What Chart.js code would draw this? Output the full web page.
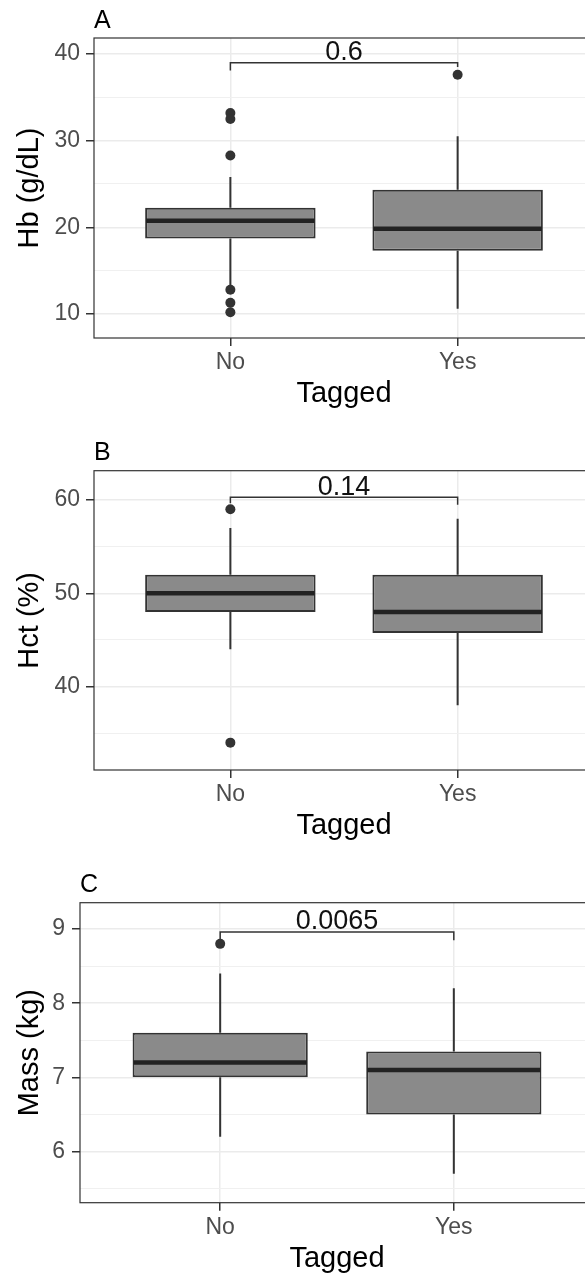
<!DOCTYPE html>
<html>
<head>
<meta charset="utf-8">
<script src="https://cdn.jsdelivr.net/npm/chart.js@4.4.0/dist/chart.umd.min.js"></script>
<style>
  html, body { margin: 0; padding: 0; overflow: hidden; background: #fff; width: 585px; height: 1276px; }
  .panel { position: absolute; left: 0; width: 600px; }
</style>
</head>
<body>
<div class="panel" style="top:0;height:420px"><canvas id="chartA"></canvas></div>
<div class="panel" style="top:420px;height:440px"><canvas id="chartB"></canvas></div>
<div class="panel" style="top:860px;height:416px"><canvas id="chartC"></canvas></div>
<script>
const groups = ['No', 'Yes'];
const groupX = [1, 2];

// A - Hb (g/dL)
const hbQ1 = [18.7, 17.3];
const hbMedian = [20.75, 19.85];
const hbQ3 = [22.25, 24.35];
const hbLower = [13.2, 10.6];
const hbUpper = [25.8, 30.5];
const hbOutliersNo = [33.2, 32.5, 28.3, 12.8, 11.3, 10.2];
const hbOutliersYes = [37.6];
const hbP = '0.6';
const hbBracket = [39.0, 38.1, 38.5]; // bar, left tip, right tip

// B - Hct (%)
const hctQ1 = [48, 45.75];
const hctMedian = [50, 48];
const hctQ3 = [52, 52];
const hctLower = [44, 38];
const hctUpper = [57, 58];
const hctOutliersNo = [59, 34];
const hctOutliersYes = [];
const hctP = '0.14';
const hctBracket = [60.3, 59.65, 59.5];

// C - Mass (kg)
const massQ1 = [7.0, 6.5];
const massMedian = [7.2, 7.1];
const massQ3 = [7.6, 7.35];
const massLower = [6.2, 5.7];
const massUpper = [8.4, 8.2];
const massOutliersNo = [8.8];
const massOutliersYes = [];
const massP = '0.0065';
const massBracket = [8.96, 8.85, 8.85];

Chart.defaults.font.family = "'Liberation Sans', Arial, Helvetica, sans-serif";
Chart.defaults.animation = false;

const ink = '#333333';

function isMajor(v, major) {
  const r = v / major;
  return Math.abs(r - Math.round(r)) < 1e-6;
}

// grid positions every `step` inside [min, max]
function gridTicks(min, max, step) {
  const out = [];
  for (let v = Math.ceil(min / step) * step; v <= max + 1e-9; v += step) {
    out.push({ value: Math.round(v * 1000) / 1000 });
  }
  return out;
}

function boxExtras(p) {
  return {
    id: 'boxExtras',
    beforeDatasetsDraw(chart) {
      const { ctx, scales: { x, y } } = chart;
      ctx.save();
      ctx.strokeStyle = ink;
      ctx.lineWidth = 2;
      groupX.forEach((gx, i) => {
        const px = x.getPixelForValue(gx);
        ctx.beginPath();
        ctx.moveTo(px, y.getPixelForValue(p.lower[i]));
        ctx.lineTo(px, y.getPixelForValue(p.q1[i]));
        ctx.moveTo(px, y.getPixelForValue(p.q3[i]));
        ctx.lineTo(px, y.getPixelForValue(p.upper[i]));
        ctx.stroke();
      });
      ctx.restore();
    },
    afterDatasetsDraw(chart) {
      const { ctx, chartArea, scales: { x, y } } = chart;
      const bars = chart.getDatasetMeta(1).data;
      ctx.save();
      // medians
      ctx.strokeStyle = '#222';
      ctx.lineWidth = 4.5;
      bars.forEach((bar, i) => {
        const py = y.getPixelForValue(p.median[i]);
        ctx.beginPath();
        ctx.moveTo(bar.x - bar.width / 2 + 1, py);
        ctx.lineTo(bar.x + bar.width / 2 - 1, py);
        ctx.stroke();
      });
      // comparison bracket
      const x1 = x.getPixelForValue(groupX[0]);
      const x2 = x.getPixelForValue(groupX[1]);
      const yb = y.getPixelForValue(p.bracket[0]);
      ctx.strokeStyle = ink;
      ctx.lineWidth = 1.5;
      ctx.beginPath();
      ctx.moveTo(x1, y.getPixelForValue(p.bracket[1]));
      ctx.lineTo(x1, yb);
      ctx.lineTo(x2, yb);
      ctx.lineTo(x2, y.getPixelForValue(p.bracket[2]));
      ctx.stroke();
      ctx.fillStyle = '#111';
      ctx.font = "27px 'Liberation Sans', Arial, sans-serif";
      ctx.textAlign = 'center';
      ctx.textBaseline = 'alphabetic';
      ctx.fillText(p.pval, (x1 + x2) / 2, yb - 2.5);
      // panel border
      ctx.strokeStyle = ink;
      ctx.lineWidth = 1.2;
      ctx.strokeRect(chartArea.left, chartArea.top, chartArea.right - chartArea.left, chartArea.bottom - chartArea.top);
      ctx.restore();
    }
  };
}

function boxChart(id, p) {
  const boxes = groupX.map((gx, i) => ({ x: gx, y: [p.q1[i], p.q3[i]] }));
  const outliers = [];
  p.outNo.forEach(v => outliers.push({ x: groupX[0], y: v }));
  p.outYes.forEach(v => outliers.push({ x: groupX[1], y: v }));

  return new Chart(document.getElementById(id), {
    type: 'bar',
    data: {
      datasets: [
        {
          type: 'line',
          data: outliers,
          showLine: false,
          pointRadius: 5,
          pointBackgroundColor: ink,
          pointBorderWidth: 0,
          borderColor: ink
        },
        {
          data: boxes,
          backgroundColor: '#8a8a8a',
          borderColor: ink,
          borderWidth: 2,
          borderSkipped: false,
          categoryPercentage: 1,
          barPercentage: 0.75
        }
      ]
    },
    options: {
      responsive: true,
      maintainAspectRatio: false,
      events: [],
      layout: { padding: { left: 0, right: 6, top: 0, bottom: 0 } },
      plugins: {
        legend: { display: false },
        tooltip: { enabled: false },
        title: {
          display: true,
          text: p.tag,
          align: 'start',
          fullSize: false,
          color: '#000',
          font: { size: 25, weight: 'normal' },
          padding: p.tagPad
        }
      },
      scales: {
        x: {
          type: 'linear',
          min: 0.4,
          max: 2.6,
          offset: false,
          bounds: 'data',
          afterBuildTicks: s => { s.ticks = groupX.map(v => ({ value: v })); },
          afterFit: s => { s.height = p.xHeight; },
          ticks: {
            callback: v => groups[groupX.indexOf(v)],
            color: '#4d4d4d',
            font: { size: 23 },
            padding: 3,
            maxRotation: 0,
            autoSkip: false
          },
          grid: { offset: false, color: '#ebebeb', lineWidth: 1.5, tickColor: ink, tickLength: 8, tickWidth: 1.5 },
          border: { display: false },
          title: {
            display: true,
            text: 'Tagged',
            color: '#000',
            font: { size: 29 },
            padding: { top: 0, bottom: p.xTitlePad }
          }
        },
        y: {
          type: 'linear',
          min: p.min,
          max: p.max,
          bounds: 'data',
          afterBuildTicks: s => { s.ticks = gridTicks(p.min, p.max, p.step); },
          afterFit: s => { s.width = p.yWidth; },
          ticks: {
            autoSkip: false,
            callback: v => isMajor(v, p.major) ? String(v) : '',
            color: '#4d4d4d',
            font: { size: 23 },
            padding: p.yTickPad
          },
          grid: {
            color: c => isMajor(c.tick.value, p.major) ? '#ebebeb' : '#f0f0f0',
            lineWidth: c => isMajor(c.tick.value, p.major) ? 1.5 : 1.1,
            tickColor: c => isMajor(c.tick.value, p.major) ? ink : 'rgba(0,0,0,0)',
            tickLength: 8,
            tickWidth: 1.5
          },
          border: { display: false },
          title: {
            display: true,
            text: p.yTitle,
            color: '#000',
            font: { size: 29 },
            padding: { top: 12.6, bottom: 0 }
          }
        }
      }
    },
    plugins: [boxExtras(p)]
  });
}

boxChart('chartA', {
  tag: 'A', tagPad: { top: 6, bottom: 2 },
  yTitle: 'Hb (g/dL)', min: 7.23, max: 41.85, step: 5, major: 10,
  yWidth: 94, yTickPad: 6, xHeight: 82, xTitlePad: 8.6,
  q1: hbQ1, median: hbMedian, q3: hbQ3, lower: hbLower, upper: hbUpper,
  outNo: hbOutliersNo, outYes: hbOutliersYes, pval: hbP, bracket: hbBracket
});

boxChart('chartB', {
  tag: 'B', tagPad: { top: 18, bottom: 2.7 },
  yTitle: 'Hct (%)', min: 31.07, max: 63.14, step: 5, major: 10,
  yWidth: 94, yTickPad: 6, xHeight: 90, xTitlePad: 16.6,
  q1: hctQ1, median: hctMedian, q3: hctQ3, lower: hctLower, upper: hctUpper,
  outNo: hctOutliersNo, outYes: hctOutliersYes, pval: hctP, bracket: hctBracket
});

boxChart('chartC', {
  tag: 'C', tagPad: { top: 10, bottom: 2.7 },
  yTitle: 'Mass (kg)', min: 5.31, max: 9.355, step: 0.5, major: 1,
  yWidth: 80, yTickPad: 7, xHeight: 73.3, xTitlePad: 0,
  q1: massQ1, median: massMedian, q3: massQ3, lower: massLower, upper: massUpper,
  outNo: massOutliersNo, outYes: massOutliersYes, pval: massP, bracket: massBracket
});
</script>
</body>
</html>
